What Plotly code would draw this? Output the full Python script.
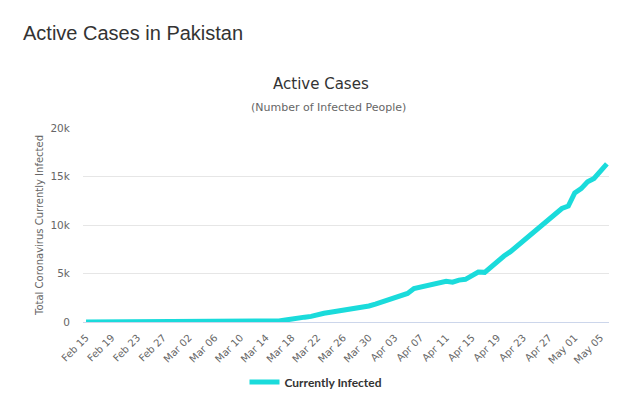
import pandas as pd
import plotly.graph_objects as go

# Dates: Feb 15, 2020 .. May 06, 2020 (daily)
dates = pd.date_range("2020-02-15", "2020-05-06", freq="D")

# Active (currently infected) cases
active = [
    # Feb 15 - Feb 29
    0, 0, 0, 0, 0, 0, 0, 0, 0, 0, 0, 2, 2, 2, 4,
    # Mar 01 - Mar 31
    4, 4, 5, 5, 5, 6, 6, 6, 15, 16, 18, 19, 26, 29, 50, 110,
    200, 260, 380, 500, 580, 800, 900, 1000, 1100, 1230, 1380, 1480, 1580, 1650, 1850,
    # Apr 01 - Apr 30
    2050, 2250, 2500, 2680, 2950, 3450, 3580, 3720, 3850, 3950, 4200, 4100, 4320, 4400, 4800,
    5150, 5120, 5700, 6300, 6800, 7250, 7800, 8450, 8950, 9600, 10150, 10650, 11150, 11700, 11950,
    # May 01 - May 06
    13300, 13750, 14450, 14800, 15600, 16300,
]

y_ticks = [0, 5000, 10000, 15000, 20000]
y_tick_labels = ["0", "5k", "10k", "15k", "20k"]

series_name = "Currently Infected"
line_color = "#1ADBDB"

W, H = 640, 409
ML, MR, MT, MB = 83, 31, 128, 87
PW, PH = W - ML - MR, H - MT - MB


def px(x):
    return (x - ML) / PW


def py(y):
    return (H - MB - y) / PH


fig = go.Figure()
fig.add_trace(go.Scatter(
    x=dates, y=active, mode="lines", name=series_name,
    line=dict(color=line_color, width=5, shape="linear"),
    hoverinfo="x+y",
))

fig.update_layout(
    width=W, height=H,
    margin=dict(l=ML, r=MR, t=MT, b=MB, autoexpand=False),
    paper_bgcolor="white", plot_bgcolor="white",
    font=dict(family="DejaVu Sans, Verdana, sans-serif", color="#666666", size=11),
    showlegend=True,
    legend=dict(
        orientation="h", x=px(316), xanchor="center", y=py(382), yanchor="middle",
        font=dict(family="Lato, DejaVu Sans, sans-serif", size=12, color="#333333", weight="bold"),
        itemwidth=30, bgcolor="rgba(0,0,0,0)",
    ),
    annotations=[
        dict(text="Active Cases in Pakistan", xref="paper", yref="paper",
             x=px(21), y=py(33), xanchor="left", yanchor="middle",
             showarrow=False,
             font=dict(family="Liberation Sans, Arial, sans-serif", size=20, color="#333333")),
        dict(text="Active Cases", xref="paper", yref="paper",
             x=px(321), y=py(84), xanchor="center", yanchor="middle",
             showarrow=False,
             font=dict(family="DejaVu Sans, Verdana, sans-serif", size=15, color="#333333")),
        dict(text="(Number of Infected People)", xref="paper", yref="paper",
             x=px(328), y=py(108), xanchor="center", yanchor="middle",
             showarrow=False,
             font=dict(family="DejaVu Sans, Verdana, sans-serif", size=11, color="#666666")),
    ],
)

fig.update_xaxes(
    type="date",
    range=[pd.Timestamp("2020-02-15") - pd.Timedelta(hours=11.3),
           pd.Timestamp("2020-02-15") + pd.Timedelta(hours=24 * 81.33)],
    tick0="2020-02-15", dtick=4 * 86400000, tickformat="%b %d",
    tickangle=-45, ticks="outside", ticklen=5, tickcolor="rgba(0,0,0,0)",
    showgrid=False, showline=True, linecolor="#ccd6eb", linewidth=1,
    tickfont=dict(size=10, color="#666666"), zeroline=False,
)
fig.update_yaxes(
    range=[0, 20000], tickvals=y_ticks, ticktext=y_tick_labels,
    showgrid=True, gridcolor="#e6e6e6", gridwidth=1, zeroline=False,
    showline=False, ticks="outside", ticklen=10, tickcolor="rgba(0,0,0,0)",
    tickfont=dict(size=10.5, color="#666666"),
    title=dict(text="Total Coronavirus Currently Infected", standoff=4,
               font=dict(size=10, color="#666666")),
)

fig.write_html("out.html", config={"displayModeBar": False},
               post_script="document.body.style.margin='0';")
